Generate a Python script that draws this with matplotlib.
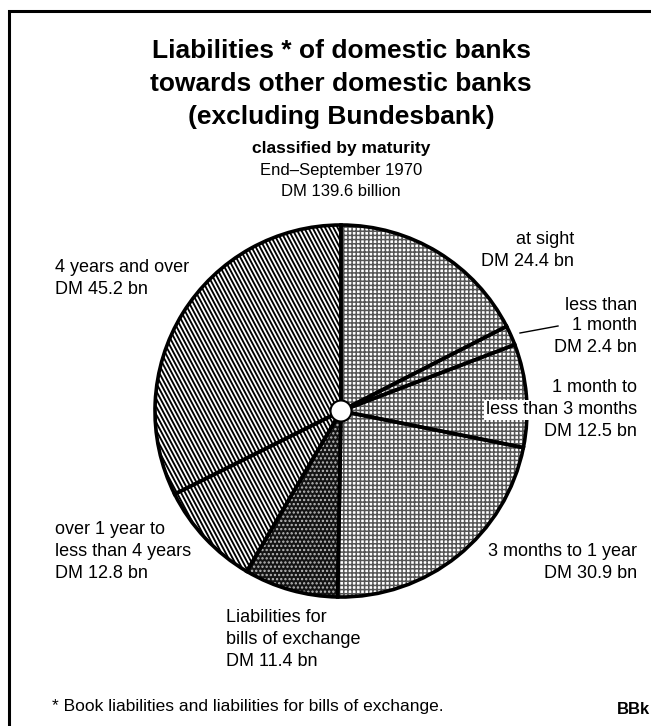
import matplotlib
matplotlib.use('Agg')
import matplotlib.pyplot as plt
import numpy as np
from matplotlib.patches import Circle
from matplotlib.collections import LineCollection

plt.rcParams['font.family'] = ['Liberation Sans', 'DejaVu Sans']
plt.rcParams['hatch.linewidth'] = 1.1

# data (DM billion), clockwise from the top
categories = ['at sight', 'less than 1 month', '1 month to less than 3 months',
              '3 months to 1 year', 'Liabilities for bills of exchange',
              'over 1 year to less than 4 years', '4 years and over']
values = [24.4, 2.4, 12.5, 30.9, 11.4, 12.8, 45.2]
total = 139.6

W, H = 651, 726
fig = plt.figure(figsize=(W / 100, H / 100), dpi=100)
ax = fig.add_axes([0, 0, 1, 1])

# (face, hatch colour, hatch) ; None -> steep stripes drawn below
styles = [('white', '#555555', '++++'),
          ('white', '#555555', '++++'),
          ('white', '#555555', '++++'),
          ('white', '#555555', '++++'),
          ('#141414', '#bbbbbb', '....'),
          ('white', 'white', None),
          ('white', 'white', None)]

cx, cy, r = 341, H - 411, 186

wedges, _ = ax.pie(values, startangle=90, counterclock=False,
                   center=(cx, cy), radius=r,
                   wedgeprops=dict(linewidth=0))
for w, (fc, hc, h) in zip(wedges, styles):
    w.set_facecolor(fc)
    w.set_edgecolor(hc)
    if h:
        w.set_hatch(h)

# steep diagonal stripes for the long maturities
ang = np.deg2rad(62)
d = np.array([np.cos(ang), -np.sin(ang)])
nrm = np.array([np.sin(ang), np.cos(ang)])
offs = np.arange(-2 * r, 2 * r, 3.7)
segs = [[(cx + o * nrm[0] - 2 * r * d[0], cy + o * nrm[1] - 2 * r * d[1]),
         (cx + o * nrm[0] + 2 * r * d[0], cy + o * nrm[1] + 2 * r * d[1])] for o in offs]
for w, st in zip(wedges, styles):
    if st[2] is None:
        lc = LineCollection(segs, colors='black', linewidths=1.35)
        ax.add_collection(lc)
        lc.set_clip_path(w)

# black outlines on top of the hatching
outl, _ = ax.pie(values, startangle=90, counterclock=False,
                 center=(cx, cy), radius=r,
                 wedgeprops=dict(facecolor='none', edgecolor='black', linewidth=2.6))
for w in outl:
    w.set_zorder(4)
ax.add_patch(Circle((cx, cy), 10.5, facecolor='white', edgecolor='black', linewidth=1.5, zorder=5))

ax.set_xlim(0, W)
ax.set_ylim(0, H)
ax.set_aspect('equal')
ax.axis('off')


def put_lines(x, ys, lines, **kw):
    for y, s in zip(ys, lines):
        ax.text(x, H - y, s, va='center', **kw)


# title
put_lines(341, [51, 84, 117],
          ['Liabilities * of domestic banks',
           'towards other domestic banks',
           '(excluding Bundesbank)'],
          ha='center', fontsize=19, fontweight='bold')
put_lines(341, [149], ['classified by maturity'], ha='center', fontsize=12.5, fontweight='bold')
put_lines(341, [171, 192], ['End\u2013September 1970', 'DM %.1f billion' % total],
          ha='center', fontsize=12)

# slice labels
fs = 13
put_lines(574, [240, 262], ['at sight', 'DM %.1f bn' % values[0]], ha='right', fontsize=fs)
put_lines(637, [305, 326, 347], ['less than', '1 month', 'DM %.1f bn' % values[1]],
          ha='right', fontsize=fs)
put_lines(637, [388, 410, 431], ['1 month to', 'less than 3 months', 'DM %.1f bn' % values[2]],
          ha='right', fontsize=fs, zorder=6,
          bbox=dict(facecolor='white', edgecolor='none', pad=1))
put_lines(637, [551, 573], ['3 months to 1 year', 'DM %.1f bn' % values[3]],
          ha='right', fontsize=fs)
put_lines(226, [618, 640, 662], ['Liabilities for', 'bills of exchange', 'DM %.1f bn' % values[4]],
          ha='left', fontsize=fs)
put_lines(55, [530, 551, 573], ['over 1 year to', 'less than 4 years', 'DM %.1f bn' % values[5]],
          ha='left', fontsize=fs)
put_lines(55, [268, 290], ['4 years and over', 'DM %.1f bn' % values[6]],
          ha='left', fontsize=fs)

# leader for the small slice
ax.plot([520, 558], [H - 333, H - 326], color='black', linewidth=1)

# footnote and source
put_lines(52, [706], ['* Book liabilities and liabilities for bills of exchange.'],
          ha='left', fontsize=12.5)
put_lines(617, [710], ['BBk'], ha='left', fontsize=12, fontweight='bold')

# frame (left and top)
ax.plot([9, 9, W], [0, H - 11, H - 11], color='black', linewidth=2.2,
        solid_joinstyle='miter')

fig.savefig('out.png', dpi=100)
